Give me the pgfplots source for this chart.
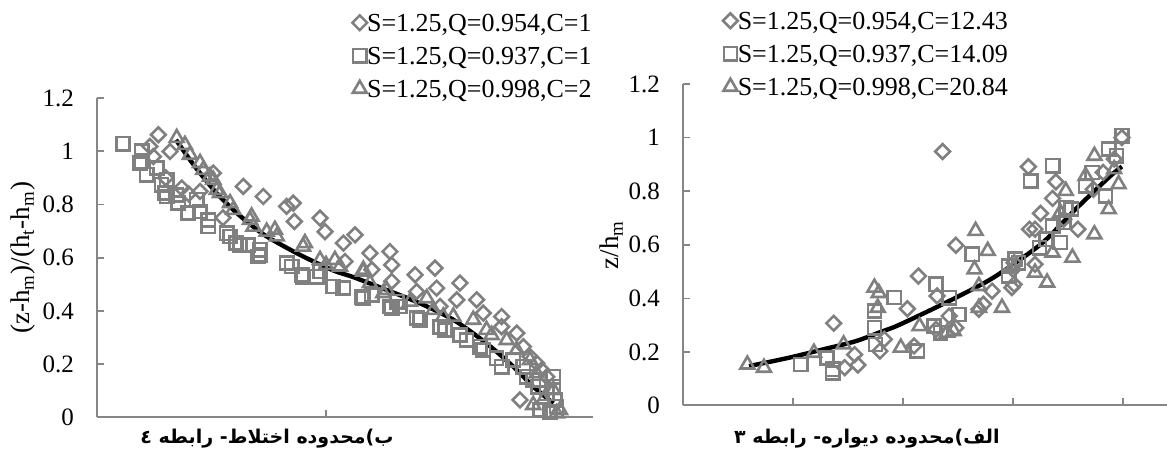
\documentclass[border=0pt]{standalone}
\usepackage{fontspec}
\setmainfont{Liberation Serif}
\newfontfamily\arabicfont[Script=Arabic]{DejaVu Sans}
\TeXXeTstate=1
\usepackage{pgfplots}
\pgfplotsset{compat=1.18}
\definecolor{mk}{RGB}{128,128,128}
\definecolor{ax}{RGB}{134,134,134}

\pgfplotsset{
  base/.style={
    scale only axis, anchor=south west, clip=false,
    axis x line*=bottom, axis y line*=left,
    axis line style={ax, line width=1pt, -},
    tick align=inside, major tick length=3.5pt,
    tick style={ax, line width=0.8pt},
    ymin=0, ymax=1.2, ytick={0,0.2,...,1.2},
    xticklabels={},
    /pgf/number format/assume math mode=true,
    tick label style={font=\fontsize{12.5}{12.5}\selectfont},
    yticklabel style={xshift=-8pt},
    ylabel style={font=\fontsize{13.5}{13.5}\selectfont, anchor=center},
    legend style={draw=none, fill=none, anchor=north west,
      font=\fontsize{13}{13}\selectfont, row sep=4pt,
      nodes={inner sep=0pt, text height=9.3pt, text depth=3.2pt},
      /tikz/every even column/.append style={column sep=2.5pt}},
    legend cell align=left,
    legend image code/.code={\draw[##1] plot coordinates {(0pt,1.5pt)};},
  },
  dia/.style={only marks, mark=square, mark size=2.6pt,
    mark options={rotate=45, draw=mk, line width=1.3pt}},
  sqr/.style={only marks, mark=square, mark size=3.3pt,
    mark options={draw=mk, line width=1.3pt}},
  tri/.style={only marks, mark=triangle, mark size=4pt,
    mark options={draw=mk, line width=1.3pt}},
}

\begin{document}
\begin{tikzpicture}
\path[use as bounding box] (0,0) rectangle (583.5pt,226.5pt);

% left panel (b), cropped on the right as in the original figure
\begin{scope}
\clip (0,0) rectangle (298pt,226.5pt);
\begin{axis}[base, at={(48.5pt,17.75pt)}, width=248pt, height=159.75pt,
  xmin=0, xmax=2.166, xtick={1,2},
  ylabel={(z-h\textsubscript{m})/(h\textsubscript{t}-h\textsubscript{m})},
  ylabel style={at={(axis description cs:-0.149,0.5)}},
  legend style={at={(0.502,1.279)}}]
\addplot[dia] coordinates {
(0.268,1.062) (0.231,1.018) (0.319,0.999) (0.246,0.98) (0.30,0.90) (0.37,0.862)
(0.40,0.84) (0.45,0.849) (0.508,0.918) (0.55,0.75) (0.639,0.868) (0.726,0.83)
(0.828,0.793) (0.857,0.805) (0.862,0.736) (0.974,0.749) (0.996,0.698) (1.076,0.655)
(1.127,0.686) (1.083,0.586) (1.192,0.617) (1.279,0.623) (1.287,0.573) (1.287,0.511)
(1.2,0.555) (1.389,0.536) (1.476,0.561) (1.483,0.486) (1.585,0.505) (1.571,0.442)
(1.658,0.442) (1.687,0.392) (1.767,0.379) (1.767,0.341) (1.833,0.317) (1.862,0.266)
(1.891,0.229) (1.92,0.204) (1.942,0.179) (1.964,0.153) (1.847,0.066) (1.498,0.417)
(1.396,0.473)
};
\addlegendentry{S=1.25,Q=0.954,C=1}
\addplot[sqr] coordinates {
(0.114,1.028) (0.195,1.0) (0.195,0.962) (0.188,0.956) (0.217,0.912) (0.261,0.937)
(0.282,0.874) (0.304,0.893) (0.297,0.843) (0.304,0.83) (0.346,0.836) (0.355,0.805)
(0.399,0.768) (0.435,0.818) (0.45,0.774) (0.486,0.742) (0.486,0.717) (0.566,0.692)
(0.581,0.68) (0.608,0.655) (0.624,0.648) (0.659,0.648) (0.704,0.605) (0.712,0.63)
(0.712,0.611) (0.828,0.58) (0.85,0.567) (0.894,0.536) (0.9,0.529) (0.959,0.529)
(0.974,0.548) (1.03,0.492) (1.076,0.486) (1.156,0.454) (1.163,0.448) (1.2,0.46)
(1.28,0.417) (1.287,0.41) (1.31,0.435) (1.323,0.417) (1.396,0.373) (1.41,0.367)
(1.498,0.341) (1.52,0.329) (1.585,0.31) (1.614,0.291) (1.672,0.266) (1.687,0.254)
(1.745,0.222) (1.767,0.191) (1.818,0.216) (1.862,0.191) (1.876,0.153) (1.905,0.141)
(1.927,0.116) (1.964,0.091) (1.993,0.116) (2.0,0.066) (2.007,0.041) (1.978,0.022)
(1.993,0.153) (1.934,0.028)
};
\addlegendentry{S=1.25,Q=0.937,C=1}
\addplot[tri] coordinates {
(0.348,1.05) (0.384,1.024) (0.406,0.987) (0.45,0.956) (0.464,0.93) (0.493,0.905)
(0.508,0.893) (0.523,0.855) (0.537,0.843) (0.581,0.805) (0.595,0.78) (0.668,0.742)
(0.675,0.755) (0.683,0.717) (0.741,0.698) (0.777,0.705) (0.785,0.68) (0.9,0.642)
(0.908,0.655) (0.974,0.592) (1.0,0.573) (1.039,0.592) (1.061,0.567) (1.163,0.548)
(1.163,0.555) (1.192,0.505) (1.25,0.467) (1.265,0.479) (1.367,0.435) (1.44,0.448)
(1.469,0.404) (1.512,0.379) (1.556,0.379) (1.643,0.367) (1.701,0.329) (1.723,0.31)
(1.789,0.291) (1.833,0.254) (1.891,0.216) (1.92,0.166) (1.905,0.047) (1.949,0.066)
(1.993,0.103) (2.022,0.028) (2.007,0.016)
};
\addlegendentry{S=1.25,Q=0.998,C=2}
\addplot[black, line width=2.2pt, smooth, mark=none, forget plot] coordinates {
(0.345,1.043) (0.40,0.975) (0.45,0.918) (0.52,0.845) (0.595,0.78) (0.67,0.725)
(0.741,0.68) (0.886,0.611) (1.03,0.553) (1.12,0.527) (1.265,0.479) (1.41,0.429)
(1.556,0.367) (1.70,0.279) (1.818,0.191) (1.905,0.116) (1.993,0.053)
};
\end{axis}
\end{scope}

% right panel (a)
\begin{axis}[base, at={(341.5pt,23.75pt)}, width=247.5pt, height=160.75pt,
  xmin=0, xmax=4.5, xtick={1,2,3,4},
  ylabel={z/h\textsubscript{m}},
  ylabel style={at={(axis description cs:-0.145,0.5)}},
  legend style={at={(0.068,1.240)}}]
\addplot[dia] coordinates {
(2.36,0.948) (3.14,0.891) (3.39,0.835) (3.36,0.773) (3.25,0.717) (3.20,0.658)
(3.15,0.658) (2.48,0.598) (2.14,0.483) (2.04,0.361) (1.37,0.307) (1.59,0.151)
(1.56,0.19) (1.47,0.141) (1.79,0.203) (1.83,0.247) (2.10,0.222) (2.31,0.409)
(2.30,0.284) (2.42,0.334) (2.48,0.29) (2.69,0.359) (2.73,0.378) (2.81,0.427)
(2.99,0.44) (3.01,0.452) (3.00,0.508) (3.01,0.533) (3.20,0.527) (3.46,0.695)
(3.59,0.658) (3.73,0.807) (3.82,0.87) (3.92,0.92) (3.99,1.0)
};
\addlegendentry{S=1.25,Q=0.954,C=12.43}
\addplot[sqr] coordinates {
(3.36,0.895) (3.16,0.838) (2.63,0.564) (2.30,0.452) (1.92,0.403) (1.74,0.353)
(1.74,0.29) (1.75,0.228) (2.13,0.203) (2.28,0.296) (2.34,0.272) (2.51,0.34)
(2.42,0.402) (1.31,0.178) (1.36,0.135) (1.36,0.122) (1.07,0.153) (2.96,0.521)
(3.05,0.533) (3.02,0.546) (2.96,0.483) (3.24,0.589) (3.30,0.62) (3.36,0.67)
(3.48,0.739) (3.43,0.608) (3.66,0.82) (3.72,0.87) (3.84,0.782) (3.87,0.957)
(3.99,1.007) (3.94,0.932) (3.53,0.733) (3.46,0.683)
};
\addlegendentry{S=1.25,Q=0.937,C=14.09}
\addplot[tri] coordinates {
(0.585,0.153) (0.736,0.141) (1.19,0.197) (1.46,0.228) (1.74,0.44) (1.77,0.365)
(1.78,0.42) (1.98,0.216) (2.15,0.296) (2.46,0.278) (2.40,0.272) (2.66,0.652)
(2.65,0.508) (2.77,0.577) (2.69,0.446) (2.69,0.365) (2.90,0.365) (3.31,0.459)
(3.20,0.496) (3.54,0.552) (3.48,0.801) (3.66,0.857) (3.74,0.932) (3.74,0.639)
(3.87,0.733) (3.96,0.826) (3.92,0.882) (3.36,0.571) (3.43,0.72)
};
\addlegendentry{S=1.25,Q=0.998,C=20.84}
\addplot[black, line width=2.2pt, smooth, mark=none, forget plot] coordinates {
(0.60,0.147) (0.96,0.178) (1.27,0.209) (1.57,0.24) (1.80,0.275) (1.96,0.30)
(2.39,0.384) (2.75,0.46) (2.96,0.515) (3.27,0.608) (3.57,0.733) (3.87,0.851)
(3.99,0.892)
};
\end{axis}

% panel captions
\node[anchor=center, font=\arabicfont\bfseries\fontsize{9.5}{9.5}\selectfont]
  at (133.5pt,7pt) {\beginR ب)محدوده اختلاط- رابطه ٤\endR};
\node[anchor=west, font=\arabicfont\bfseries\fontsize{9.5}{9.5}\selectfont]
  at (363.5pt,7pt) {\beginR الف)محدوده دیواره- رابطه ۳\endR};
\end{tikzpicture}
\end{document}
